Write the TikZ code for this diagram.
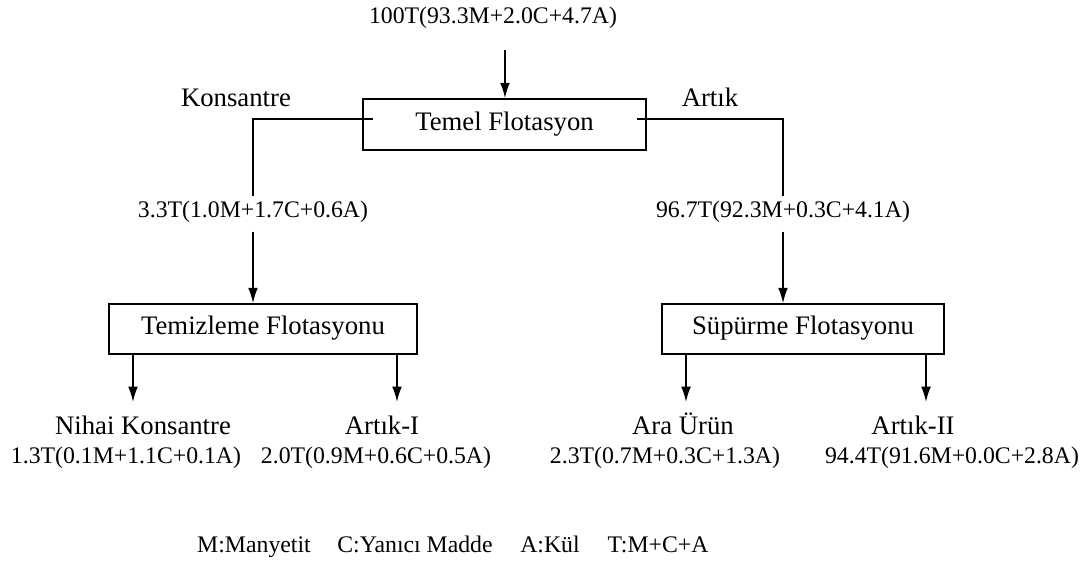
\documentclass[tikz,border=0pt]{standalone}
\usepackage{fontspec}
\setmainfont{Liberation Serif}
\usepackage{tikz}
\usetikzlibrary{arrows.meta}

\begin{document}
\begin{tikzpicture}[x=0.025cm,y=-0.025cm,line width=1.1pt,
    every node/.style={font=\fontsize{16.9}{20}\selectfont,text height=0.75em,text depth=0.25em},
    prodname/.style={font=\fontsize{19}{22}\selectfont},
    stage/.style={draw,line width=1.1pt,inner sep=0pt,font=\fontsize{19}{22}\selectfont,text height=0.9em,text depth=0.1em},
    flow/.style={fill=white,inner xsep=2pt,inner ysep=7pt},
    >={Latex[length=11pt,width=7pt]}]

        \useasboundingbox (0,0) rectangle (1087,567);

        % stages
        \node[stage,minimum width=7.075cm,minimum height=1.275cm]  (temel) at (504.5,124.5)  {Temel Flotasyon};
        \node[stage,minimum width=7.7cm,minimum height=1.25cm]     (temiz) at (263,329)      {Temizleme Flotasyonu};
        \node[stage,minimum width=7.05cm,minimum height=1.25cm]    (supur) at (803,329)      {Süpürme Flotasyonu};

        % feed
        \node                (feed) at (493,20)       {100T(93.3M+2.0C+4.7A)};
        \coordinate          (fin)  at (505,50);
        \draw[->] (fin) -- (fin |- temel.north);

        % rougher split
        \node[prodname]      (kons) at (236,103)      {Konsantre};
        \node[prodname]      (art)  at (710,103)      {Artık};
        \coordinate          (kL)   at (373,119);
        \coordinate          (aR)   at (637,119);
        \node[flow]          (m1)   at (253,214)      {3.3T(1.0M+1.7C+0.6A)};
        \node[flow]          (m2)   at (783,214)      {96.7T(92.3M+0.3C+4.1A)};
        \draw (kL) -| (m1);
        \draw (aR) -| (m2);
        \draw[->] (m1) -- (m1 |- temiz.north);
        \draw[->] (m2) -- (m2 |- supur.north);

        % products
        \coordinate          (e1)   at (133,402);
        \coordinate          (e2)   at (397,402);
        \coordinate          (e3)   at (686,402);
        \coordinate          (e4)   at (926,402);
        \draw[->] (temiz.south -| e1) -- (e1);
        \draw[->] (temiz.south -| e2) -- (e2);
        \draw[->] (supur.south -| e3) -- (e3);
        \draw[->] (supur.south -| e4) -- (e4);

        \node[prodname]      (p1)   at (143,431)      {Nihai Konsantre};
        \node[prodname]      (p2)   at (382,431)      {Artık-I};
        \node[prodname]      (p3)   at (683,431)      {Ara Ürün};
        \node[prodname]      (p4)   at (913,431)      {Artık-II};

        \node                (q1)   at (126,460)      {1.3T(0.1M+1.1C+0.1A)};
        \node                (q2)   at (376,460)      {2.0T(0.9M+0.6C+0.5A)};
        \node                (q3)   at (665,460)      {2.3T(0.7M+0.3C+1.3A)};
        \node                (q4)   at (952,460)      {94.4T(91.6M+0.0C+2.8A)};

        % legend
        \node                (lm)   at (254,549)      {M:Manyetit};
        \node                (lc)   at (415,549)      {C:Yanıcı Madde};
        \node                (la)   at (550,549)      {A:Kül};
        \node                (lt)   at (658,549)      {T:M+C+A};

\end{tikzpicture}
\end{document}
